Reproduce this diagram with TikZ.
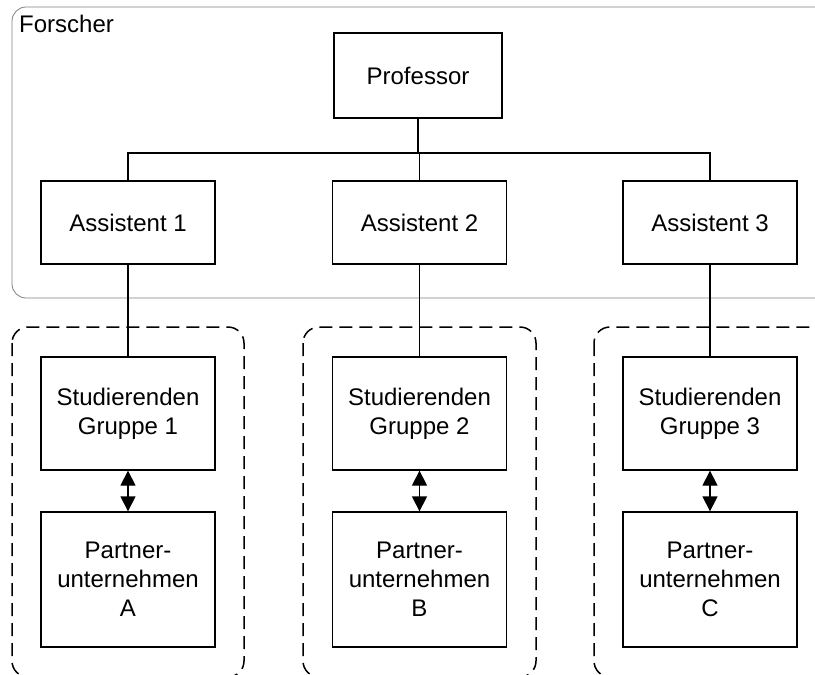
\documentclass[tikz,border=0pt]{standalone}
\usepackage{fontspec}
\setmainfont{Liberation Sans}
\usetikzlibrary{arrows.meta}
\begin{document}
\begin{tikzpicture}[x=1pt,y=-1pt,
  box/.style={draw, line width=1.3pt, minimum width=174pt, align=center,
    font=\fontsize{24}{29}\selectfont, inner sep=0pt},
  conn/.style={line width=1.1pt},
  dual/.style={line width=1.3pt, {Triangle[length=15pt,width=15pt]}-{Triangle[length=15pt,width=15pt]}},
  group/.style={line width=1.5pt, dash pattern=on 13pt off 7pt, rounded corners=16pt},
  outer/.style={draw=gray, line width=0.8pt, rounded corners=14pt}]
\useasboundingbox (0,0) rectangle (815,675);
\clip (0,0) rectangle (815,675);
% Forscher frame
\draw[outer] (840,7) -- (12,7) -- (12,298) -- (840,298);
\node[anchor=north west, font=\fontsize{24}{29}\selectfont, inner sep=0pt] (forscher) at (19,15) {Forscher};
% group frames
\draw[group] (12,327) rectangle (244,677);
\draw[group] (303,327) rectangle (536,677);
\draw[group] (594,327) rectangle (840,677);
% nodes
\node[box, minimum width=168pt, minimum height=85pt] (prof) at (418,75.5) {Professor};
\node[box, minimum height=83pt] (a1) at (128,222.5) {Assistent 1};
\node[box, minimum height=83pt] (a2) at (419.5,222.5) {Assistent 2};
\node[box, minimum height=83pt] (a3) at (710,222.5) {Assistent 3};
\node[box, minimum height=113pt] (s1) at (128,413.5) {Studierenden\\Gruppe 1};
\node[box, minimum height=113pt] (s2) at (419.5,413.5) {Studierenden\\Gruppe 2};
\node[box, minimum height=113pt] (s3) at (710,413.5) {Studierenden\\Gruppe 3};
\node[box, minimum height=135pt] (p1) at (128,579.5) {Partner-\\unternehmen\\A};
\node[box, minimum height=135pt] (p2) at (419.5,579.5) {Partner-\\unternehmen\\B};
\node[box, minimum height=135pt] (p3) at (710,579.5) {Partner-\\unternehmen\\C};
\coordinate (bus) at (0,153);
% connectors
\draw[conn] (prof.south) -- (prof.south |- bus);
\draw[conn] (a1.north) -- (a1.north |- bus) -- (a3.north |- bus) -- (a3.north);
\draw[conn] (a2.north) -- (a2.north |- bus);
\draw[conn] (a1.south) -- (s1.north);
\draw[conn] (a2.south) -- (s2.north);
\draw[conn] (a3.south) -- (s3.north);
\draw[dual] (s1.south) -- (p1.north);
\draw[dual] (s2.south) -- (p2.north);
\draw[dual] (s3.south) -- (p3.north);
\end{tikzpicture}
\end{document}
